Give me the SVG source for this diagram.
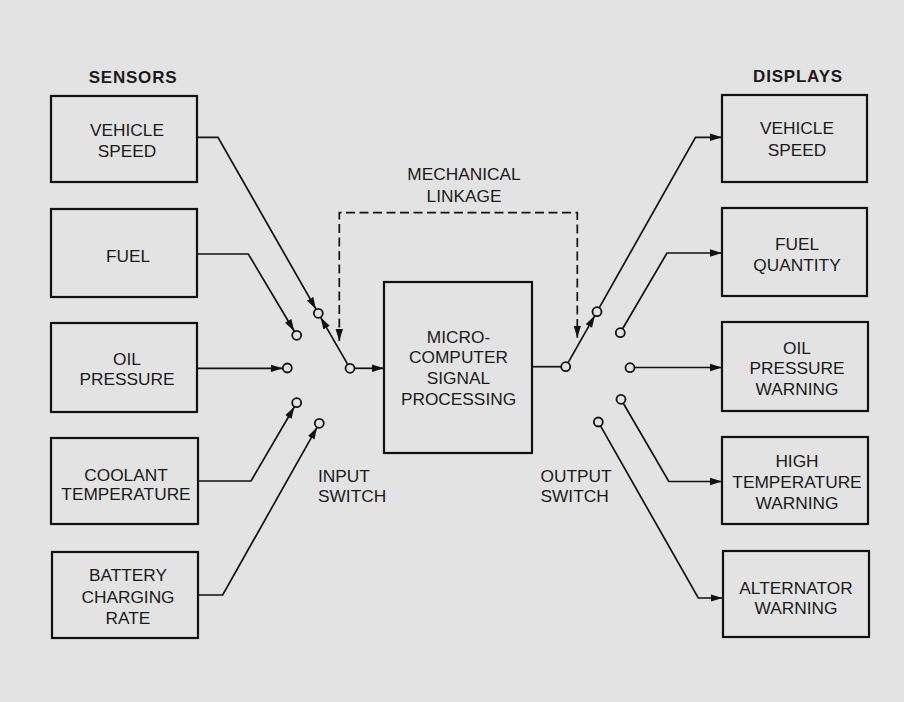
<svg xmlns="http://www.w3.org/2000/svg" width="904" height="702" viewBox="0 0 904 702">
<style>
text{font-family:"Liberation Sans",Arial,sans-serif;font-size:17.3px;fill:#1a1a1a;text-anchor:middle}
.hd{font-weight:bold;font-size:17px;letter-spacing:0.8px}
.lt{text-anchor:start}
.box{fill:none;stroke:#111;stroke-width:2.2}
.ln{fill:none;stroke:#111;stroke-width:1.7}
.dash{fill:none;stroke:#111;stroke-width:1.7;stroke-dasharray:9 4.5}
.term{fill:#e3e3e3;stroke:#111;stroke-width:1.8}
</style>
<defs>
<marker id="ah" markerUnits="userSpaceOnUse" markerWidth="13" markerHeight="9" refX="12" refY="4.5" orient="auto-start-reverse">
<path d="M0,0.8 L12,4.5 L0,8.2 z" fill="#111"/>
</marker>
</defs>
<rect x="0" y="0" width="904" height="702" fill="#e3e3e3"/>

<text class="hd" x="133" y="83">SENSORS</text>
<text class="hd" x="798" y="81.5">DISPLAYS</text>

<g id="s-vehicle-speed"><rect class="box" x="51" y="96" width="146" height="86"/><text x="127" y="136">VEHICLE</text><text x="127" y="156.5">SPEED</text></g>
<g id="s-fuel"><rect class="box" x="51" y="209" width="146" height="88"/><text x="128" y="262">FUEL</text></g>
<g id="s-oil-pressure"><rect class="box" x="51" y="323" width="146" height="89"/><text x="127" y="365">OIL</text><text x="127" y="385">PRESSURE</text></g>
<g id="s-coolant"><rect class="box" x="51" y="438" width="147" height="86"/><text x="126" y="480.5">COOLANT</text><text x="126" y="500">TEMPERATURE</text></g>
<g id="s-battery"><rect class="box" x="52" y="552" width="146" height="86"/><text x="128" y="581">BATTERY</text><text x="128" y="602.5">CHARGING</text><text x="128" y="624">RATE</text></g>

<g id="processor"><rect class="box" x="384" y="282" width="148" height="171"/><text x="458.5" y="342.5">MICRO-</text><text x="458.5" y="363">COMPUTER</text><text x="458.5" y="384">SIGNAL</text><text x="458.5" y="405">PROCESSING</text></g>

<g id="d-vehicle-speed"><rect class="box" x="722" y="95" width="145" height="87"/><text x="797" y="134">VEHICLE</text><text x="797" y="156">SPEED</text></g>
<g id="d-fuel-quantity"><rect class="box" x="722" y="208" width="145" height="88"/><text x="797" y="249.5">FUEL</text><text x="797" y="270.5">QUANTITY</text></g>
<g id="d-oil-pressure"><rect class="box" x="722" y="322" width="146" height="89"/><text x="797" y="353.5">OIL</text><text x="797" y="374">PRESSURE</text><text x="797" y="395">WARNING</text></g>
<g id="d-high-temp"><rect class="box" x="722" y="437" width="146" height="87"/><text x="797" y="466.5">HIGH</text><text x="797" y="487.5">TEMPERATURE</text><text x="797" y="508.5">WARNING</text></g>
<g id="d-alternator"><rect class="box" x="723" y="551" width="146" height="86"/><text x="796" y="593.5">ALTERNATOR</text><text x="796" y="613.5">WARNING</text></g>

<g id="input-switch">
<circle class="term" cx="318.3" cy="313.3" r="4.5"/>
<circle class="term" cx="296.7" cy="335.3" r="4.5"/>
<circle class="term" cx="287.3" cy="368" r="4.5"/>
<circle class="term" cx="296.7" cy="402.7" r="4.5"/>
<circle class="term" cx="319.3" cy="423.3" r="4.5"/>
<circle class="term" cx="350" cy="368.3" r="4.5"/>
<text class="lt" x="318" y="481.5">INPUT</text><text class="lt" x="318" y="501.5">SWITCH</text>
</g>
<g id="output-switch">
<circle class="term" cx="565.7" cy="366.7" r="4.5"/>
<circle class="term" cx="597" cy="311.7" r="4.5"/>
<circle class="term" cx="620.3" cy="332.7" r="4.5"/>
<circle class="term" cx="630" cy="367.7" r="4.5"/>
<circle class="term" cx="621" cy="399.3" r="4.5"/>
<circle class="term" cx="598.3" cy="422" r="4.5"/>
<text class="lt" x="540.5" y="481.5">OUTPUT</text><text class="lt" x="540.5" y="501.5">SWITCH</text>
</g>
<g id="linkage-label"><text x="464" y="180" font-size="17.8">MECHANICAL</text><text x="464" y="201.5" font-size="17.8">LINKAGE</text></g>

<g id="connectors">
<path class="ln" d="M197,137.3 H218 L316,309.2" marker-end="url(#ah)"/>
<path class="ln" d="M197,254 H248.3 L294.3,331.2" marker-end="url(#ah)"/>
<path class="ln" d="M197,368.3 H282.8" marker-end="url(#ah)"/>
<path class="ln" d="M198,481 H251 L294.4,406.8" marker-end="url(#ah)"/>
<path class="ln" d="M198,595 H222.7 L317.1,427.3" marker-end="url(#ah)"/>
<path class="ln" d="M347.7,364.4 L320.6,317.3" marker-end="url(#ah)"/>
<path class="ln" d="M354.5,368.3 H384" marker-end="url(#ah)"/>
<path class="dash" d="M339.3,341 V212.7 H577.3 V337.7" marker-start="url(#ah)" marker-end="url(#ah)"/>
<path class="ln" d="M532,366.7 H561.2"/>
<path class="ln" d="M568,362.8 L594.8,315.6" marker-end="url(#ah)"/>
<path class="ln" d="M599.2,307.8 L695.5,137.3 H722" marker-end="url(#ah)"/>
<path class="ln" d="M622.6,328.8 L667,253 H722" marker-end="url(#ah)"/>
<path class="ln" d="M634.5,367.5 H722" marker-end="url(#ah)"/>
<path class="ln" d="M623.3,403.2 L668.8,481.5 H722" marker-end="url(#ah)"/>
<path class="ln" d="M600.5,425.9 L698.3,598 H722.5" marker-end="url(#ah)"/>
</g>
</svg>
